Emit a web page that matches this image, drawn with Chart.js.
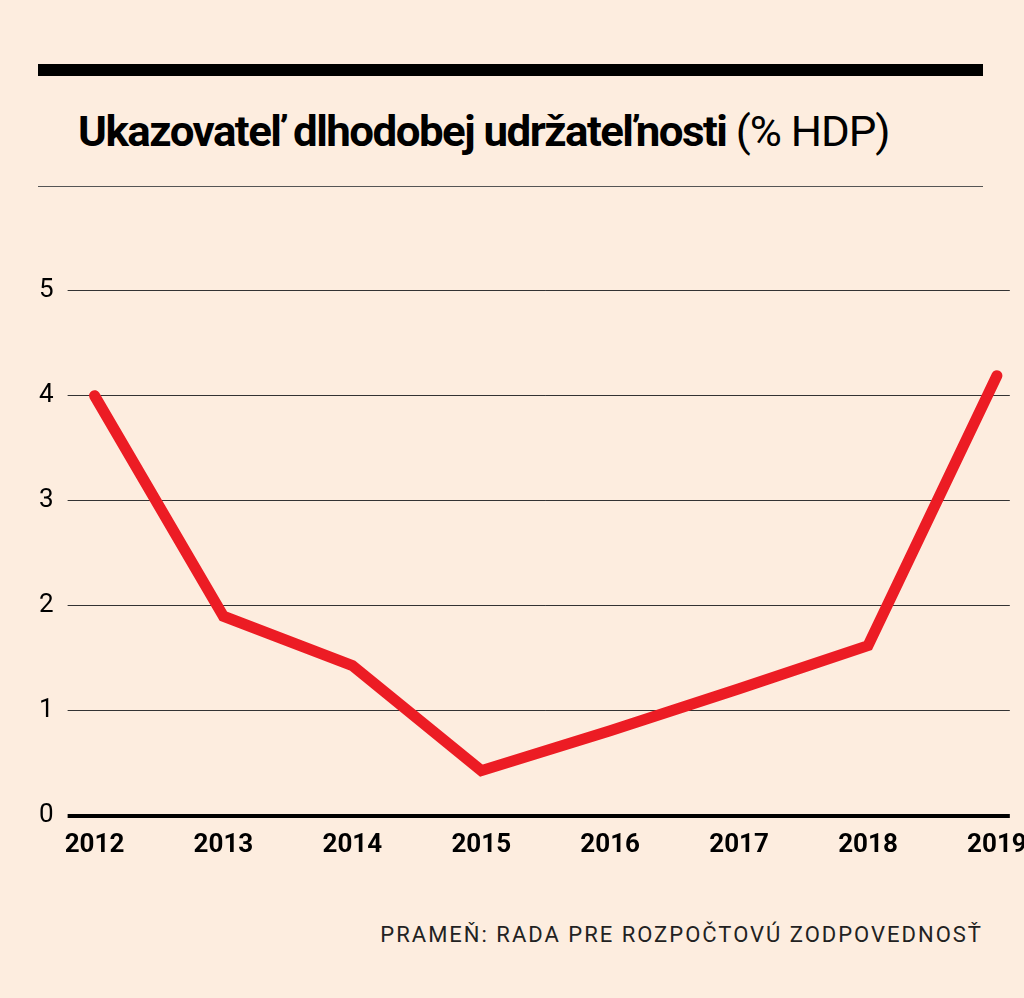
<!DOCTYPE html>
<html><head><meta charset="utf-8">
<script src="https://cdn.jsdelivr.net/npm/chart.js@4/dist/chart.umd.min.js"></script>
<style>
body{margin:0;background:#fdeddf;width:1024px;height:998px;position:relative;overflow:hidden;font-family:"Roboto",sans-serif}
#bar{position:absolute;left:38px;top:64px;width:945px;height:12px;background:#000}
#title{position:absolute;left:78px;top:106px;font-size:43px;font-weight:bold;letter-spacing:-1.5px;color:#000;transform:scaleX(1.02);transform-origin:left}
#title span{font-weight:normal;letter-spacing:-1px}
#rule{position:absolute;left:38px;top:186px;width:945px;height:1px;background:#555}
#wrap{position:absolute;left:25px;top:261px;width:1008px;height:606px}
#src{position:absolute;right:41px;top:922px;font-size:22px;letter-spacing:2px;color:#222;font-family:"Roboto",sans-serif}
</style></head><body>
<div id="bar"></div>
<div id="title">Ukazovateľ dlhodobej udržateľnosti <span>(% HDP)</span></div>
<div id="rule"></div>
<div id="wrap"><canvas id="c"></canvas></div>
<div id="src">PRAMEŇ: RADA PRE ROZPOČTOVÚ ZODPOVEDNOSŤ</div>
<script>
// DATA
const years = [2012, 2013, 2014, 2015, 2016, 2017, 2018, 2019];
const values = [4.0, 1.9, 1.43, 0.43, 0.81, 1.21, 1.62, 4.19];
const yTicks = [0, 1, 2, 3, 4, 5];

new Chart(document.getElementById('c').getContext('2d'), {
  type: 'line',
  data: { datasets: [{ data: years.map((y, i) => ({ x: y, y: values[i] })), borderColor: '#ec1c24', borderWidth: 11, pointRadius: 0, tension: 0, borderJoinStyle: 'miter', borderCapStyle: 'round' }] },
  options: {
    responsive: true, maintainAspectRatio: false, animation: false,
    layout: { padding: { top: 20, right: 17 } },
    plugins: { legend: { display: false }, tooltip: { enabled: false } },
    scales: {
      x: { type: 'linear', min: 2011.9, max: 2019.1, border: { display: false }, grid: { display: false },
        afterBuildTicks: a => { a.ticks = years.map(v => ({ value: v })); },
        ticks: { color: '#000', font: { family: 'Roboto, sans-serif', size: 26, weight: 'bold' }, callback: v => String(v), padding: 6 } },
      y: { min: 0, max: 5, border: { display: false },
        afterBuildTicks: a => { a.ticks = yTicks.map(v => ({ value: v })); },
        grid: { color: c => c.tick.value === 0 ? '#000' : '#333', lineWidth: c => c.tick.value === 0 ? 4 : 1, tickLength: 14 },
        ticks: { color: '#000', font: { family: 'Roboto, sans-serif', size: 26 }, padding: 14 } }
    }
  }
});
</script>
</body></html>
